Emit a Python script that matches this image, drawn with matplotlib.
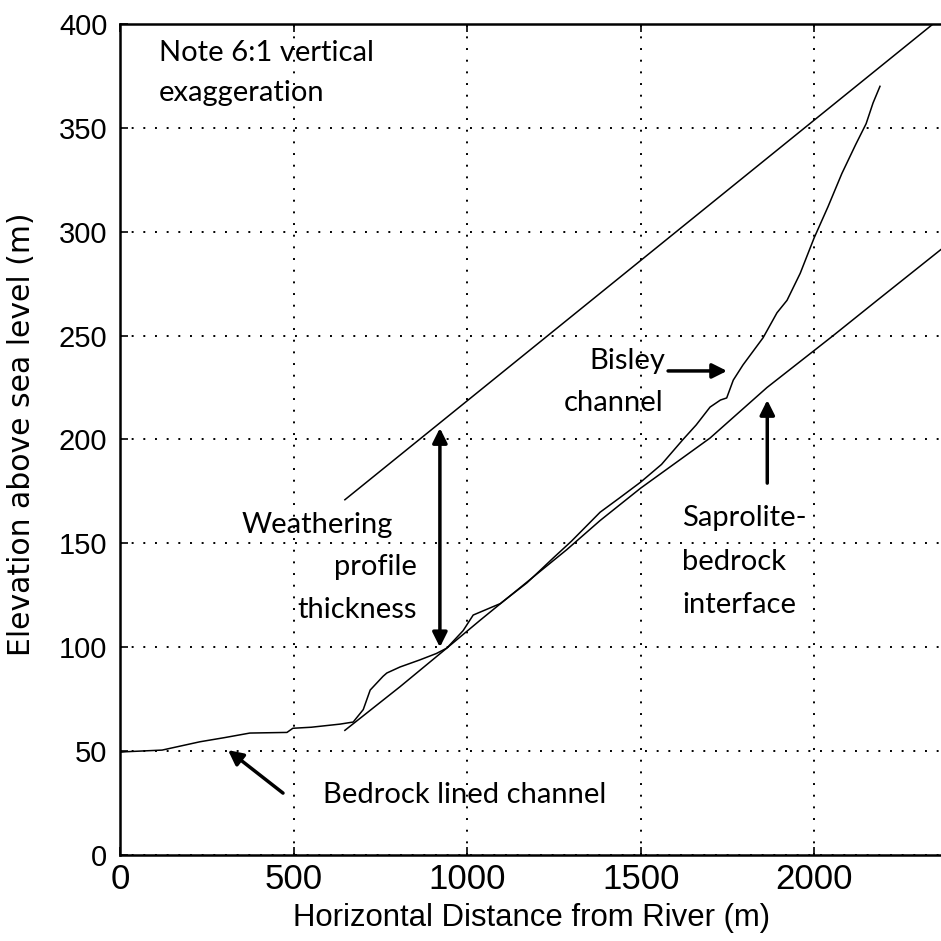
import matplotlib
matplotlib.use("Agg")
import matplotlib.pyplot as plt

# ---- data ----
channel_x = [0, 15, 120, 229, 300, 373, 480, 497, 550, 633, 671, 700, 720, 757, 768, 806,
             863, 911, 941, 988, 1017, 1095, 1172, 1248, 1300, 1383, 1440, 1500, 1560,
             1622, 1660, 1700, 1730, 1748, 1767, 1795, 1853, 1893, 1922, 1960, 2000,
             2040, 2080, 2120, 2150, 2170, 2190]
channel_y = [49.5, 49.7, 50.5, 54.5, 56.5, 58.7, 59, 61, 61.5, 63, 64, 70, 79.4, 86, 87.6, 90.5,
             93.9, 97, 99.6, 108, 115.5, 121, 131, 143, 151, 165, 172, 179.5, 188,
             200, 207, 215.6, 219, 220, 228.6, 235.9, 249, 261, 267, 280, 297,
             312, 328, 342, 352, 362, 370]

surface_x = [647, 2343]
surface_y = [171, 400]

interface_x = [647, 806, 941, 1037, 1287, 1383, 1500, 1700, 1864, 2055, 2182, 2400]
interface_y = [60, 81, 99.6, 113, 147, 161, 176.6, 200.7, 225, 250, 267, 296]

x_ticks = [0, 500, 1000, 1500, 2000]
y_ticks = [0, 50, 100, 150, 200, 250, 300, 350, 400]

fig = plt.figure(figsize=(9.41, 9.41), dpi=100)
ax = fig.add_axes([0.12805, 0.09139, 0.8845, 0.88311])

ax.plot(channel_x, channel_y, color="black", lw=1.1)
ax.plot(surface_x, surface_y, color="black", lw=1.1)
ax.plot(interface_x, interface_y, color="black", lw=1.1)

ax.set_xlim(0, 2400)
ax.set_ylim(0, 400)
ax.set_xticks(x_ticks)
ax.set_yticks(y_ticks)
ax.grid(True, color="black", linestyle=(0, (1, 5)), linewidth=1.4)
ax.set_axisbelow(True)
for s in ax.spines.values():
    s.set_linewidth(1.8)
ax.tick_params(direction="in", length=6, width=1.2, top=True, right=True)
ax.tick_params(axis="x", pad=6)
ax.tick_params(axis="y", pad=9.5)

for lab in ax.get_xticklabels():
    lab.set_fontfamily(["Liberation Sans Narrow", "Liberation Sans"])
    lab.set_fontsize(25)
for lab in ax.get_yticklabels():
    lab.set_fontfamily(["Liberation Sans"])
    lab.set_fontsize(21)

ax.set_xlabel("Horizontal Distance from River (m)", fontsize=22.4,
              family=["Liberation Sans Narrow", "Liberation Sans"])
ax.xaxis.set_label_coords(0.4944, -0.058)
ax.set_ylabel("Elevation above sea level (m)", fontsize=21.5,
              family=["DejaVu Sans"])
ax.yaxis.set_label_coords(-0.102, 0.5066)

ann = dict(fontsize=21, family=["Lato", "DejaVu Sans"], color="black")
ax.text(111, 386, "Note 6:1 vertical", ha="left", va="center", **ann)
ax.text(111, 366.8, "exaggeration", ha="left", va="center", **ann)

ax.text(786, 158.8, "Weathering", ha="right", va="center", **ann)
ax.text(855, 138.6, "profile", ha="right", va="center", **ann)
ax.text(855, 118, "thickness", ha="right", va="center", **ann)

ax.text(1572, 238, "Bisley", ha="right", va="center", **ann)
ax.text(1566, 217.6, "channel", ha="right", va="center", **ann)

ax.text(1619, 162.2, "Saprolite-", ha="left", va="center", **ann)
ax.text(1619, 141, "bedrock", ha="left", va="center", **ann)
ax.text(1619, 120.3, "interface", ha="left", va="center", **ann)

ax.text(584, 28.9, "Bedrock lined channel", ha="left", va="center", **ann)

arrow = dict(arrowstyle="-|>", color="black", lw=2.5, mutation_scale=22,
             shrinkA=0, shrinkB=0)
ax.annotate("", xy=(921, 100), xytext=(921, 205.5),
            arrowprops=dict(arrowstyle="<|-|>", color="black", lw=2.5,
                            mutation_scale=22, shrinkA=0, shrinkB=0))
ax.annotate("", xy=(1749, 233), xytext=(1579, 233), arrowprops=arrow)
ax.annotate("", xy=(1865, 219), xytext=(1865, 179), arrowprops=arrow)
ax.annotate("", xy=(310, 50.5), xytext=(468.6, 29.8), arrowprops=arrow)

fig.savefig("out.png", dpi=100)
